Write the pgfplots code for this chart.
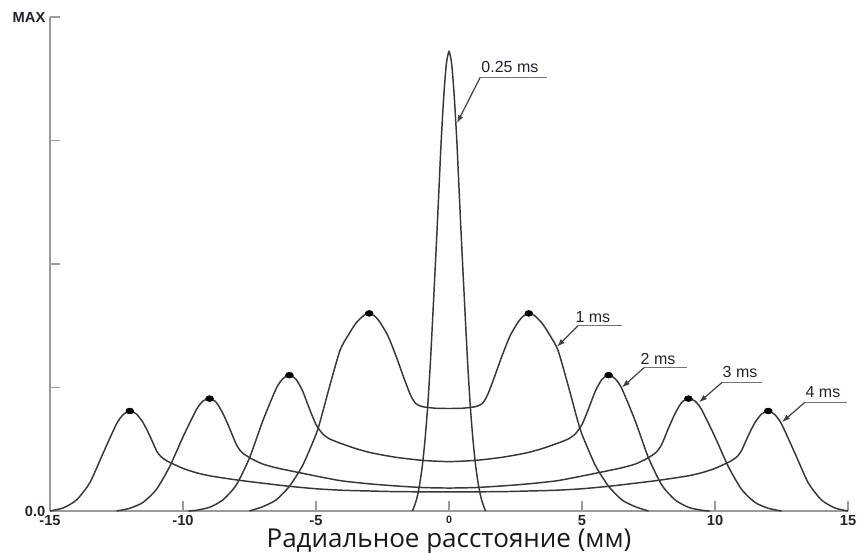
\documentclass[border=0pt]{standalone}
\usepackage{pgfplots}
\pgfplotsset{compat=1.18}
\usepackage{fontspec}
\setmainfont{Liberation Sans}
\newfontfamily\labelfont{Open Sans}
\usetikzlibrary{arrows.meta}
\definecolor{axisgray}{RGB}{155,155,155}
\definecolor{curvecol}{RGB}{55,55,55}
\definecolor{ticktext}{RGB}{35,35,45}
\begin{document}
\begin{tikzpicture}
\begin{axis}[
  scale only axis, width=598.5pt, height=370.5pt,
  xmin=-15, xmax=15, ymin=0, ymax=4,
  axis lines=left,
  axis line style={-, draw=axisgray, line width=1.3pt},
  xtick={-15,-10,-5,0,5,10,15},
  xticklabels={-15,-10,-5,{\fontsize{8}{9}\selectfont 0},5,10,15},
  ytick={0,1,2,3,4},
  yticklabels={0.0,,,,MAX},
  tick align=inside, major tick length=7.5pt,
  tick style={draw=axisgray, line width=1pt},
  ticklabel style={font=\fontsize{11}{13}\selectfont\bfseries, text=ticktext},
  xlabel={Радиальное расстояние (мм)},
  xlabel style={font=\labelfont\fontsize{19.5}{22}\selectfont, text=black!90, at={(rel axis cs:0.5,0)}, anchor=base, yshift=-27pt},
  clip=false,
  crv/.style={draw=curvecol, line width=1.1pt, smooth, tension=0.4, mark=none},
]
% 0.25 ms
\addplot[crv] coordinates {(-1.38,0)(-1.3,0.04)(-1.2,0.11)(-1.1,0.22)(-1.0,0.37)(-0.9,0.58)(-0.8,0.85)(-0.7,1.2)(-0.6,1.62)(-0.5,2.05)(-0.4,2.5)(-0.3,2.97)(-0.2,3.35)(-0.1,3.62)(0,3.72)(0.1,3.62)(0.2,3.35)(0.3,2.97)(0.4,2.5)(0.5,2.05)(0.6,1.62)(0.7,1.2)(0.8,0.85)(0.9,0.58)(1.0,0.37)(1.1,0.22)(1.2,0.11)(1.3,0.04)(1.38,0)};
% 1 ms
\addplot[crv] coordinates {(-7.5,0)(-7.0,0.035)(-6.5,0.09)(-6.0,0.2)(-5.5,0.37)(-5.0,0.62)(-4.8,0.76)(-4.5,1.0)(-4.1,1.3)(-3.8,1.42)(-3.5,1.52)(-3.2,1.585)(-3.0,1.6)(-2.8,1.58)(-2.6,1.53)(-2.3,1.42)(-2.0,1.26)(-1.7,1.08)(-1.45,0.94)(-1.25,0.87)(-1.0,0.845)(-0.5,0.832)(0,0.83)(0.5,0.832)(1.0,0.845)(1.25,0.87)(1.45,0.94)(1.7,1.08)(2.0,1.26)(2.3,1.42)(2.6,1.53)(2.8,1.58)(3.0,1.6)(3.2,1.585)(3.5,1.52)(3.8,1.42)(4.1,1.3)(4.5,1.0)(4.8,0.76)(5.0,0.62)(5.5,0.37)(6.0,0.2)(6.5,0.09)(7.0,0.035)(7.5,0)};
% 2 ms
\addplot[crv] coordinates {(-9.8,0)(-9.5,0.006)(-9.0,0.03)(-8.5,0.09)(-8.0,0.21)(-7.5,0.43)(-7.0,0.73)(-6.5,0.99)(-6.25,1.07)(-6.0,1.1)(-5.75,1.066)(-5.5,0.97)(-5.25,0.83)(-5.0,0.7)(-4.75,0.625)(-4.5,0.585)(-4.1,0.55)(-3.5,0.505)(-2.9,0.47)(-2.0,0.435)(-1.0,0.41)(0,0.40)(1.0,0.41)(2.0,0.435)(2.9,0.47)(3.5,0.505)(4.1,0.55)(4.5,0.585)(4.75,0.625)(5.0,0.7)(5.25,0.83)(5.5,0.97)(5.75,1.066)(6.0,1.1)(6.25,1.07)(6.5,0.99)(7.0,0.73)(7.5,0.43)(8.0,0.21)(8.5,0.09)(9.0,0.03)(9.5,0.006)(9.8,0)};
% 3 ms
\addplot[crv] coordinates {(-12.5,0)(-12.0,0.022)(-11.5,0.07)(-11.0,0.175)(-10.5,0.36)(-10.0,0.6)(-9.5,0.82)(-9.25,0.89)(-9.0,0.91)(-8.75,0.88)(-8.5,0.79)(-8.25,0.67)(-8.0,0.54)(-7.85,0.49)(-7.7,0.46)(-7.4,0.42)(-7.0,0.38)(-6.5,0.35)(-6.0,0.327)(-5.5,0.305)(-5.0,0.283)(-4.5,0.262)(-4.0,0.243)(-3.0,0.22)(-2.0,0.203)(-1.0,0.19)(0,0.186)(1.0,0.19)(2.0,0.203)(3.0,0.22)(4.0,0.243)(4.5,0.262)(5.0,0.283)(5.5,0.305)(6.0,0.327)(6.5,0.35)(7.0,0.38)(7.4,0.42)(7.7,0.46)(7.85,0.49)(8.0,0.54)(8.25,0.67)(8.5,0.79)(8.75,0.88)(9.0,0.91)(9.25,0.89)(9.5,0.82)(10.0,0.6)(10.5,0.36)(11.0,0.175)(11.5,0.07)(12.0,0.022)(12.5,0)};
% 4 ms
\addplot[crv] coordinates {(-15,0)(-14.5,0.025)(-14.0,0.09)(-13.5,0.23)(-13.0,0.47)(-12.5,0.705)(-12.25,0.78)(-12.0,0.81)(-11.75,0.785)(-11.5,0.715)(-11.25,0.61)(-11.0,0.49)(-10.85,0.445)(-10.6,0.405)(-10.0,0.345)(-9.5,0.31)(-9.0,0.285)(-8.0,0.252)(-7.0,0.225)(-6.0,0.2)(-5.0,0.18)(-4.0,0.168)(-3.0,0.162)(-2.0,0.157)(0,0.154)(2.0,0.157)(3.0,0.162)(4.0,0.168)(5.0,0.18)(6.0,0.2)(7.0,0.225)(8.0,0.252)(9.0,0.285)(9.5,0.31)(10.0,0.345)(10.6,0.405)(10.85,0.445)(11.0,0.49)(11.25,0.61)(11.5,0.715)(11.75,0.785)(12.0,0.81)(12.25,0.78)(12.5,0.705)(13.0,0.47)(13.5,0.23)(14.0,0.09)(14.5,0.025)(15.0,0)};
% peak dots
\addplot[only marks, mark=*, mark size=2.2pt, draw=black, fill=black, mark options={xscale=1.35}] coordinates {(-12,0.81)(-9,0.91)(-6,1.10)(-3,1.60)(3,1.60)(6,1.10)(9,0.91)(12,0.81)};
% annotations
\tikzset{ul/.style={draw=black!55, line width=0.9pt}, ld/.style={draw=black!75, line width=0.9pt, -{Latex[length=6pt,width=4.2pt]}}, lbl/.style={anchor=base, text=ticktext, font=\fontsize{12}{14}\selectfont, inner sep=0pt}}
\draw[ul] (axis cs:1.17,3.51) -- (axis cs:3.68,3.51);
\draw[ld] (axis cs:1.17,3.51) -- (axis cs:0.30,3.14);
\node[lbl] at (axis cs:2.29,3.547) {0.25 ms};
\draw[ul] (axis cs:4.85,1.50) -- (axis cs:6.50,1.50);
\draw[ld] (axis cs:4.85,1.50) -- (axis cs:4.06,1.33);
\node[lbl] at (axis cs:5.41,1.53) {1 ms};
\draw[ul] (axis cs:7.33,1.16) -- (axis cs:8.95,1.16);
\draw[ld] (axis cs:7.33,1.16) -- (axis cs:6.50,1.00);
\node[lbl] at (axis cs:7.86,1.19) {2 ms};
\draw[ul] (axis cs:10.26,1.04) -- (axis cs:11.77,1.04);
\draw[ld] (axis cs:10.26,1.04) -- (axis cs:9.40,0.88);
\node[lbl] at (axis cs:10.94,1.077) {3 ms};
\draw[ul] (axis cs:13.38,0.88) -- (axis cs:14.96,0.88);
\draw[ld] (axis cs:13.38,0.88) -- (axis cs:12.52,0.72);
\node[lbl] at (axis cs:14.06,0.923) {4 ms};
\end{axis}
\pgfresetboundingbox
\path[use as bounding box] (-37.5pt,-31.5pt) rectangle (612.75pt,383.25pt);
\end{tikzpicture}
\end{document}
